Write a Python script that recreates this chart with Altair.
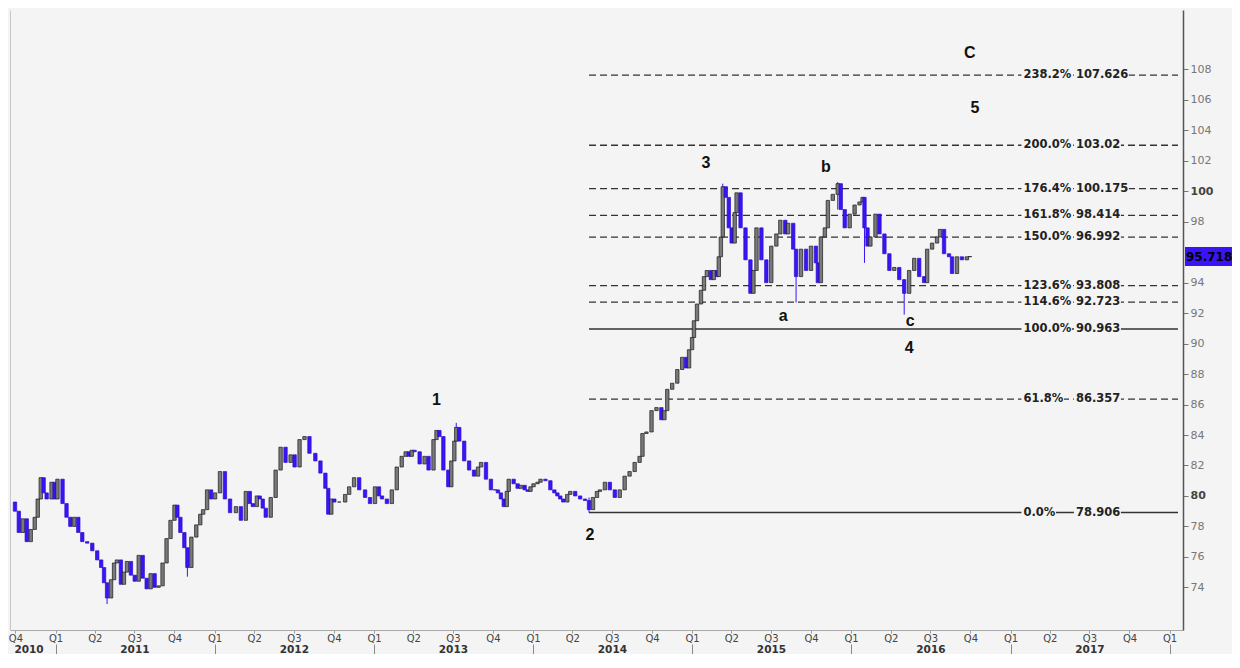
import altair as alt
import pandas as pd

# ---------------- data (decimal year, close) ----------------
first_open = 79.6
c2010 = [(2010.745, 79.0), (2010.769, 77.6), (2010.794, 78.5), (2010.819, 77.0), (2010.844, 77.8),
         (2010.869, 78.6), (2010.888, 79.8), (2010.907, 81.2), (2010.925, 80.2), (2010.944, 79.8),
         (2010.975, 80.9), (2010.994, 79.8)]
c2011 = [(2011.012, 81.1), (2011.044, 79.5), (2011.069, 78.6), (2011.093, 78.0), (2011.118, 78.6),
         (2011.143, 77.6), (2011.168, 77.0), (2011.199, 76.9), (2011.231, 76.4), (2011.262, 75.8),
         (2011.287, 75.3), (2011.305, 74.3), (2011.324, 73.3), (2011.349, 74.5), (2011.368, 75.6),
         (2011.386, 75.8), (2011.411, 74.2), (2011.430, 75.0), (2011.449, 75.7), (2011.474, 74.8),
         (2011.498, 74.4), (2011.523, 76.1), (2011.548, 74.6), (2011.573, 73.9), (2011.598, 74.9),
         (2011.623, 74.0), (2011.648, 74.1), (2011.673, 75.6), (2011.698, 77.2), (2011.723, 78.4),
         (2011.748, 79.4), (2011.766, 78.6), (2011.785, 77.6), (2011.810, 76.6), (2011.829, 75.3),
         (2011.854, 77.3), (2011.885, 78.1), (2011.910, 78.8), (2011.928, 79.1), (2011.953, 80.4),
         (2011.978, 79.8)]
c2012 = [(2012.003, 80.2), (2012.034, 81.6), (2012.065, 79.8), (2012.097, 78.9), (2012.134, 79.3),
         (2012.165, 78.4), (2012.196, 80.3), (2012.221, 79.5), (2012.240, 79.3), (2012.265, 80.0),
         (2012.283, 79.8), (2012.302, 79.2), (2012.321, 78.6), (2012.352, 79.9), (2012.383, 81.7),
         (2012.414, 83.2), (2012.445, 82.2), (2012.477, 82.7), (2012.502, 81.9), (2012.533, 83.7),
         (2012.564, 83.9), (2012.595, 82.8), (2012.632, 82.3), (2012.664, 81.5), (2012.695, 80.5),
         (2012.713, 78.8), (2012.732, 79.8), (2012.751, 79.6), (2012.782, 79.6), (2012.819, 80.1),
         (2012.844, 80.6), (2012.875, 81.2), (2012.907, 80.4), (2012.944, 79.9), (2012.975, 79.5)]
c2013 = [(2013.006, 80.6), (2013.031, 80.0), (2013.050, 79.8), (2013.081, 79.5), (2013.112, 80.4),
         (2013.143, 81.9), (2013.174, 82.6), (2013.199, 82.9), (2013.218, 82.6), (2013.237, 83.0),
         (2013.255, 82.9), (2013.287, 82.1), (2013.318, 82.6), (2013.343, 81.7), (2013.374, 83.7),
         (2013.393, 84.3), (2013.411, 83.9), (2013.436, 81.7), (2013.467, 80.6), (2013.486, 82.3),
         (2013.505, 83.6), (2013.517, 84.5), (2013.536, 83.6), (2013.567, 82.3), (2013.598, 81.7),
         (2013.629, 81.3), (2013.654, 81.9), (2013.673, 82.2), (2013.704, 81.1), (2013.735, 80.4),
         (2013.760, 80.4), (2013.779, 80.2), (2013.798, 79.8), (2013.816, 79.3), (2013.835, 80.3),
         (2013.847, 81.1), (2013.878, 80.8), (2013.903, 80.5), (2013.922, 80.7), (2013.947, 80.4),
         (2013.966, 80.3), (2013.984, 80.6)]
c2014 = [(2014.003, 80.8), (2014.028, 80.9), (2014.047, 81.1), (2014.078, 81.0), (2014.109, 80.4),
         (2014.134, 80.2), (2014.153, 80.0), (2014.171, 79.8), (2014.190, 79.6), (2014.215, 80.1),
         (2014.234, 80.3), (2014.265, 80.0), (2014.296, 79.8), (2014.327, 79.7), (2014.352, 79.1),
         (2014.377, 79.9), (2014.402, 80.3), (2014.421, 80.4), (2014.452, 80.9), (2014.483, 80.4),
         (2014.514, 79.9), (2014.545, 80.4), (2014.576, 81.3), (2014.607, 81.6), (2014.639, 82.2),
         (2014.670, 82.6), (2014.688, 84.1), (2014.713, 84.2), (2014.745, 85.6), (2014.776, 85.8),
         (2014.807, 85.0), (2014.826, 85.6), (2014.844, 87.0), (2014.875, 87.4), (2014.907, 88.3),
         (2014.938, 89.1), (2014.963, 88.4), (2014.981, 89.6)]
c2015 = [(2015.000, 90.4), (2015.012, 91.5), (2015.031, 92.6), (2015.056, 93.5), (2015.075, 94.4),
         (2015.093, 94.8), (2015.118, 94.2), (2015.137, 94.8), (2015.156, 94.4), (2015.168, 95.7),
         (2015.181, 97.0), (2015.193, 100.3), (2015.212, 99.6), (2015.231, 97.6), (2015.249, 96.6),
         (2015.268, 98.6), (2015.280, 99.9), (2015.305, 97.6), (2015.336, 95.5), (2015.367, 93.3),
         (2015.386, 94.8), (2015.405, 97.6), (2015.436, 95.5), (2015.467, 94.0), (2015.498, 96.4),
         (2015.530, 97.2), (2015.555, 98.1), (2015.586, 97.2), (2015.604, 97.9), (2015.636, 96.2),
         (2015.654, 94.4), (2015.685, 96.2), (2015.717, 94.8), (2015.748, 96.4), (2015.779, 95.3),
         (2015.791, 94.0), (2015.810, 97.0), (2015.835, 97.6), (2015.854, 99.4), (2015.885, 99.8),
         (2015.916, 100.5), (2015.935, 98.8), (2015.960, 97.6), (2015.991, 98.5)]
c2016 = [(2016.022, 99.1), (2016.053, 99.3), (2016.072, 99.6), (2016.084, 97.6), (2016.103, 96.4),
         (2016.121, 97.0), (2016.153, 98.5), (2016.178, 97.2), (2016.209, 95.9), (2016.240, 94.8),
         (2016.271, 95.0), (2016.302, 94.2), (2016.333, 93.3), (2016.364, 94.8), (2016.396, 95.6),
         (2016.427, 94.4), (2016.458, 94.0), (2016.477, 96.2), (2016.508, 96.6), (2016.539, 97.0),
         (2016.558, 97.5), (2016.583, 95.9), (2016.614, 95.7), (2016.633, 94.6), (2016.664, 95.7),
         (2016.695, 95.5), (2016.726, 95.7), (2016.745, 95.718)]

# notable wicks (decimal year, low, high)
wick_t = [2011.324, 2011.829, 2014.352, 2013.517, 2015.193, 2015.654, 2015.916, 2016.084, 2016.333]
wick_low = [72.9, 74.7, 78.906, 83.6, 97.0, 92.7, 98.8, 95.3, 91.9]
wick_high = [74.3, 76.6, 79.9, 84.8, 100.5, 96.2, 100.6, 99.6, 94.2]

# Fibonacci levels
fib_pct = ["238.2%", "200.0%", "176.4%", "161.8%", "150.0%", "123.6%", "114.6%", "100.0%", "61.8%", "0.0%"]
fib_val = [107.626, 103.02, 100.175, 98.414, 96.992, 93.808, 92.723, 90.963, 86.357, 78.906]
fib_txt = ["107.626", "103.02", "100.175", "98.414", "96.992", "93.808", "92.723", "90.963", "86.357", "78.906"]
fib_solid = ["100.0%", "0.0%"]
fib_start = 2014.352

# wave labels
wave_text = ["1", "2", "3", "a", "b", "c", "4", "5", "C"]
wave_t = [2013.393, 2014.358, 2015.087, 2015.573, 2015.841, 2016.371, 2016.364, 2016.776, 2016.745]
wave_v = [86.3, 77.46, 101.84, 91.8, 101.58, 91.5, 89.7, 105.44, 109.1]

# right-axis tick labels (96 sits under the price tag)
y_ticks = [74, 76, 78, 80, 82, 84, 86, 88, 90, 92, 94, 98, 100, 102, 104, 106, 108]

last_price = 95.718

# ---------------- helpers ----------------
def ts_ms(ts):
    return int(ts.value // 10**6)

def yr_ms(y):
    yr = int(y)
    a = pd.Timestamp(year=yr, month=1, day=1)
    b = pd.Timestamp(year=yr + 1, month=1, day=1)
    return ts_ms(a + (b - a) * (y - yr))

W, H = 1173, 620
BG = "#f4f4f4"
BLUE = "#3a14f5"
X0, X1 = yr_ms(2010.745), yr_ms(2018.053)
px_per_ms = W / (X1 - X0)
Y0, Y1 = 71.2, 111.9

pairs = c2010 + c2011 + c2012 + c2013 + c2014 + c2015 + c2016
closes = [p[1] for p in pairs]
opens = [first_open] + closes[:-1]
candles = pd.DataFrame({
    "d": [yr_ms(p[0]) for p in pairs],
    "open": opens,
    "close": closes,
})

wicks = pd.DataFrame({"d": [yr_ms(t) for t in wick_t], "lo": wick_low, "hi": wick_high})

def text_w(s):
    w = 0.0
    for ch in s:
        if ch.isdigit():
            w += 8.0
        elif ch == ".":
            w += 4.4
        elif ch == "%":
            w += 11.5
        else:
            w += 7.0
    return w

PCT_X = yr_ms(2017.081)
VAL_X = yr_ms(2017.411)
fib = pd.DataFrame({"pct": fib_pct, "val": fib_val, "txt": fib_txt})
fib["x0"] = yr_ms(fib_start)
fib["x1"] = X1
fib["solid"] = fib["pct"].isin(fib_solid)
fib["px"] = PCT_X
fib["vx"] = VAL_X
bg_rows = []
for p, v, t in zip(fib_pct, fib_val, fib_txt):
    bg_rows.append({"a": PCT_X - 2 / px_per_ms, "b": PCT_X + (text_w(p) + 1) / px_per_ms,
                    "lo": v - 0.42, "hi": v + 0.42})
    bg_rows.append({"a": VAL_X - 2 / px_per_ms, "b": VAL_X + (text_w(t) + 1) / px_per_ms,
                    "lo": v - 0.42, "hi": v + 0.42})
bg = pd.DataFrame(bg_rows)

waves = pd.DataFrame({"d": [yr_ms(t) for t in wave_t], "v": wave_v, "t": wave_text})

quarter_vals = [ts_ms(pd.Timestamp(year=y, month=m, day=1))
                for y in range(2010, 2019) for m in (1, 4, 7, 10)
                if X0 - 86400000 * 5 <= ts_ms(pd.Timestamp(year=y, month=m, day=1)) <= X1]
jan_vals = [ts_ms(pd.Timestamp(year=y, month=1, day=1)) for y in range(2011, 2019)]
year_label_vals = [yr_ms(2010.83)] + [ts_ms(pd.Timestamp(year=y, month=7, day=1)) for y in range(2011, 2018)]

xs = alt.Scale(type="utc", domain=[X0, X1])
ys = alt.Scale(domain=[Y0, Y1], zero=False, nice=False)

axis_q = alt.Axis(orient="bottom", values=quarter_vals, labelExpr="'Q' + utcquarter(datum.value)",
                  tickSize=3, tickColor="#999", domainColor="#aaa", labelColor="#444",
                  labelFont="DejaVu Sans", labelFontSize=10, labelPadding=0, labelOverlap=False,
                  grid=False, title=None)
axis_sep = alt.Axis(orient="bottom", values=jan_vals, labels=False, domain=False, ticks=True,
                    tickSize=12, tickColor="#888", offset=14, grid=False, title=None)
axis_year = alt.Axis(orient="bottom", values=year_label_vals, labelExpr="'' + utcyear(datum.value)",
                     ticks=False, domain=False, labelPadding=14, labelFont="DejaVu Sans",
                     labelFontWeight="bold", labelFontSize=10.5, labelColor="#333",
                     labelOverlap=False, labelFlush=False, grid=False, title=None)
axis_right = alt.Axis(orient="right", values=y_ticks, tickSize=5, tickColor="#777",
                      domainColor="#555", domainWidth=1.5, labelFont="DejaVu Sans", labelFontSize=11,
                      labelColor={"condition": {"test": "datum.value % 20 === 0", "value": "#444"}, "value": "#777"},
                      labelFontWeight={"condition": {"test": "datum.value % 20 === 0", "value": "bold"}, "value": "normal"},
                      labelPadding=2, grid=False, title=None)
axis_left = alt.Axis(orient="left", labels=False, ticks=False, domainColor="#c8c8c8", grid=False, title=None)

fib_base = alt.Chart(fib)
dashed = fib_base.transform_filter("!datum.solid").mark_rule(
    color="#333", strokeWidth=1.3, strokeDash=[7, 4]
).encode(
    x=alt.X("x0:T", scale=xs, axis=axis_sep), x2="x1:T",
    y=alt.Y("val:Q", scale=ys, axis=axis_left),
)
solid = fib_base.transform_filter("datum.solid").mark_rule(color="#333", strokeWidth=1.5).encode(
    x=alt.X("x0:T", scale=xs, axis=None), x2="x1:T",
    y=alt.Y("val:Q", scale=ys, axis=None),
)
bgr = alt.Chart(bg).mark_rect(color=BG).encode(
    x=alt.X("a:T", scale=xs, axis=None), x2="b:T",
    y=alt.Y("lo:Q", scale=ys, axis=None), y2="hi:Q",
)
pct_t = fib_base.mark_text(align="left", baseline="middle", font="DejaVu Sans", fontWeight="bold",
                           fontSize=11.5, color="#222").encode(
    x=alt.X("px:T", scale=xs, axis=None), y=alt.Y("val:Q", scale=ys, axis=None), text="pct:N")
val_t = fib_base.mark_text(align="left", baseline="middle", font="DejaVu Sans", fontWeight="bold",
                           fontSize=11.5, color="#222").encode(
    x=alt.X("vx:T", scale=xs, axis=None), y=alt.Y("val:Q", scale=ys, axis=None), text="txt:N")

wick_l = alt.Chart(wicks).mark_rule(color=BLUE, strokeWidth=1).encode(
    x=alt.X("d:T", scale=xs, axis=None), y=alt.Y("lo:Q", scale=ys, axis=None), y2="hi:Q")

candle_l = alt.Chart(candles).mark_bar(width=3.4, strokeWidth=0.7).encode(
    x=alt.X("d:T", scale=xs, axis=axis_q),
    y=alt.Y("open:Q", scale=ys, axis=axis_right), y2="close:Q",
    fill=alt.condition("datum.close < datum.open", alt.value(BLUE), alt.value("#7a7a7a")),
    stroke=alt.condition("datum.close < datum.open", alt.value("#2a0fd0"), alt.value("#1a1a1a")),
)

wave_l = alt.Chart(waves).mark_text(font="Liberation Sans", fontWeight="bold", fontSize=16,
                                    color="#111", baseline="middle").encode(
    x=alt.X("d:T", scale=xs, axis=axis_year), y=alt.Y("v:Q", scale=ys, axis=None), text="t:N")

price_df = pd.DataFrame({"v": [last_price], "t": [f"{last_price:.3f}"]})
price_rect = alt.Chart(price_df).transform_calculate(lo="datum.v - 0.62", hi="datum.v + 0.62").mark_rect(
    color=BLUE).encode(x=alt.value(W + 2), x2=alt.value(W + 64),
                       y=alt.Y("lo:Q", scale=ys, axis=None), y2="hi:Q")
price_text = alt.Chart(price_df).mark_text(align="left", baseline="middle", font="DejaVu Sans",
                                           fontWeight="bold", fontSize=12, color="#000").encode(
    x=alt.value(W + 3), y=alt.Y("v:Q", scale=ys, axis=None), text="t:N")

chart = alt.layer(
    dashed, solid, bgr, pct_t, val_t, wick_l, candle_l, wave_l, price_rect, price_text
).resolve_axis(x="independent", y="independent").properties(
    width=W, height=H, background=BG,
    padding={"left": 2, "top": 2, "right": 49, "bottom": 24},
    autosize=alt.AutoSizeParams(type="none"),
).configure_view(stroke=None, fill=BG)

chart.save("out.html", embed_options={"renderer": "svg", "actions": False})
